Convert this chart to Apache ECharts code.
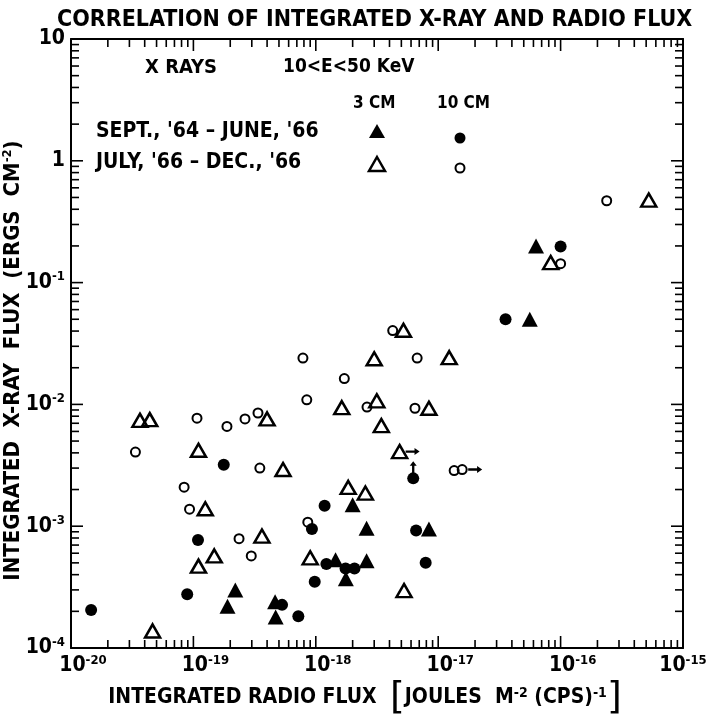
<!DOCTYPE html>
<html>
<head>
<meta charset="utf-8">
<script src="https://cdn.jsdelivr.net/npm/echarts@6/dist/echarts.min.js"></script>
<style>
  html, body { margin: 0; padding: 0; background: #fff; }
  #chart { width: 712px; height: 725px; }
</style>
</head>
<body>
<div id="chart"></div>
<script>
// X RAYS 10<E<50 KeV, integrated radio flux vs integrated x-ray flux
// [radio flux (J m^-2 (cps)^-1), x-ray flux (ergs cm^-2)]

// 3 CM, Sept '64 - June '66 (filled triangles)
const tri3Early = [
  [6.3e-17, 0.20], [5.6e-17, 0.050], [2.0e-18, 1.5e-3], [2.6e-18, 9.6e-4],
  [8.4e-18, 9.5e-4], [1.45e-18, 5.3e-4], [1.76e-18, 3.7e-4], [2.6e-18, 5.2e-4],
  [2.2e-19, 3.0e-4], [1.9e-19, 2.2e-4], [4.65e-19, 2.4e-4], [4.7e-19, 1.8e-4]
]

// 10 CM, Sept '64 - June '66 (filled circles)
const circ10Early = [
  [1.0e-16, 0.198], [3.55e-17, 0.050], [1.77e-19, 3.2e-3], [1.18e-18, 1.47e-3],
  [9.3e-19, 9.5e-4], [1.09e-19, 7.7e-4], [1.22e-18, 4.9e-4], [1.75e-18, 4.5e-4],
  [2.07e-18, 4.5e-4], [9.8e-19, 3.5e-4], [8.9e-20, 2.76e-4], [1.46e-20, 2.05e-4],
  [5.3e-19, 2.26e-4], [7.2e-19, 1.82e-4], [6.6e-18, 9.2e-4], [7.9e-18, 5.0e-4],
  [6.25e-18, 2.47e-3]
]

// 3 CM, July '66 - Dec. '66 (open triangles)
const tri3Late = [
  [5.25e-16, 0.476], [8.3e-17, 0.146], [5.2e-18, 0.0406], [3.0e-18, 0.0237],
  [1.23e-17, 0.0242], [3.15e-18, 0.0107], [1.63e-18, 9.4e-3], [8.4e-18, 9.3e-3],
  [3.43e-18, 6.7e-3], [3.66e-20, 7.4e-3], [4.4e-20, 7.5e-3], [4.0e-19, 7.6e-3],
  [1.10e-19, 4.2e-3], [5.4e-19, 2.92e-3], [1.25e-19, 1.39e-3], [3.63e-19, 8.3e-4],
  [1.48e-19, 5.7e-4], [1.10e-19, 4.7e-4], [9.0e-19, 5.5e-4], [1.84e-18, 2.08e-3],
  [2.54e-18, 1.87e-3], [4.84e-18, 4.1e-3], [5.26e-18, 2.96e-4], [4.64e-20, 1.38e-4]
]

// 10 CM, July '66 - Dec. '66 (open circles)
const circ10Late = [
  [2.38e-16, 0.47], [1.0e-16, 0.143], [4.25e-18, 0.0404], [7.85e-19, 0.0240],
  [6.73e-18, 0.0240], [1.71e-18, 0.0163], [8.44e-19, 0.0109], [2.62e-18, 9.5e-3],
  [6.46e-18, 9.3e-3], [1.07e-19, 7.7e-3], [1.88e-19, 6.6e-3], [2.64e-19, 7.6e-3],
  [3.37e-19, 8.5e-3], [3.36e-20, 4.06e-3], [3.49e-19, 3.0e-3], [8.4e-20, 2.09e-3],
  [9.3e-20, 1.38e-3], [8.6e-19, 1.08e-3], [2.36e-19, 7.9e-4], [2.97e-19, 5.7e-4],
  [1.35e-17, 2.86e-3], [1.57e-17, 2.92e-3]
]

// lower limits (arrows)
const rightLimits = [tri3Late[21], circ10Late[21]]
const upLimits = [circ10Early[16]]

// axes
const xMin = 1e-20, xMax = 1e-15
const yMin = 1e-4, yMax = 10
const xDecades = [-20, -19, -18, -17, -16, -15]
const yDecades = [-4, -3, -2, -1, 0, 1]
const minorMult = [2, 3, 4, 5, 6, 7, 8, 9]

const FONT = "'DejaVu Sans Condensed', 'Liberation Sans Narrow', 'DejaVu Sans', sans-serif"

const exponent = v => Math.round(Math.log10(v))

const chart = echarts.init(document.getElementById('chart'))

const tickRich = {
  w: { fontSize: 10, width: 24 },
  b: { fontFamily: FONT, fontWeight: 'bold', fontSize: 21, lineHeight: 24, color: '#000' },
  s: { fontFamily: FONT, fontWeight: 'bold', fontSize: 13, lineHeight: 13, verticalAlign: 'top', color: '#000' }
}

const baseAxis = {
  type: 'log',
  logBase: 10,
  axisLine: { show: true, lineStyle: { color: '#000', width: 2 } },
  axisTick: { show: false },
  splitLine: { show: false },
  minorTick: { show: false }
}

const legendGraphics = [
  { type: 'text', left: 145, top: 58, style: { text: 'X RAYS', font: 'bold 20px ' + FONT, fill: '#000' } },
  { type: 'text', left: 283, top: 58, style: { text: '10<E<50 KeV', font: 'bold 19px ' + FONT, fill: '#000' } },
  { type: 'text', left: 353, top: 95, style: { text: '3 CM', font: 'bold 17px ' + FONT, fill: '#000' } },
  { type: 'text', left: 437, top: 95, style: { text: '10 CM', font: 'bold 17px ' + FONT, fill: '#000' } },
  { type: 'text', left: 96, top: 121, style: { text: "SEPT., '64 \u2013 JUNE, '66", font: 'bold 21px ' + FONT, fill: '#000' } },
  { type: 'text', left: 96, top: 152, style: { text: "JULY, '66 \u2013 DEC., '66", font: 'bold 21px ' + FONT, fill: '#000' } },
  { type: 'polygon', shape: { points: [[377, 124], [385, 138], [369, 138]] }, style: { fill: '#000' } },
  { type: 'circle', shape: { cx: 460, cy: 138, r: 5.5 }, style: { fill: '#000' } },
  { type: 'polygon', shape: { points: [[377, 157], [385, 171], [369, 171]] }, style: { fill: 'none', stroke: '#000', lineWidth: 2.5, lineJoin: 'miter' } },
  { type: 'circle', shape: { cx: 460, cy: 168, r: 4.5 }, style: { fill: 'none', stroke: '#000', lineWidth: 2 } }
]

const option = {
  backgroundColor: '#fff',
  animation: false,
  title: {
    text: 'CORRELATION OF INTEGRATED X-RAY AND RADIO FLUX',
    left: 52,
    top: 4,
    textStyle: { fontFamily: FONT, fontWeight: 'bold', fontSize: 23, color: '#000' }
  },
  grid: { left: 71, top: 39, width: 612, height: 609, outerBoundsMode: 'none', containLabel: false },
  xAxis: [
    Object.assign({}, baseAxis, {
      min: xMin, max: xMax, position: 'bottom',
      axisLabel: {
        margin: 6,
        // "10" centred on the tick, exponent hanging right (last one pulled in)
        formatter: v => {
          const e = exponent(v)
          return (e === -15 ? '' : '{w| }') + '{b|10}{s|' + e + '}'
        },
        rich: tickRich
      },
      name: '{t|INTEGRATED RADIO FLUX}    {br|[}{t|JOULES  M}{s|-2}{t| (CPS)}{s|-1}{br|]}',
      nameLocation: 'middle',
      nameGap: 30,
      nameMoveOverlap: false,
      nameTextStyle: {
        padding: [0, 24, 0, 0],
        rich: {
          t: { fontFamily: FONT, fontWeight: 'bold', fontSize: 21, lineHeight: 40, color: '#000' },
          s: { fontFamily: FONT, fontWeight: 'bold', fontSize: 14, lineHeight: 14, verticalAlign: 'top', padding: [8, 0, 0, 0], color: '#000' },
          br: { fontFamily: "'DejaVu Sans', sans-serif", fontSize: 38, lineHeight: 40, color: '#000' }
        }
      }
    }),
    Object.assign({}, baseAxis, {
      min: xMin, max: xMax, position: 'top',
      axisLabel: { show: false }
    })
  ],
  yAxis: [
    Object.assign({}, baseAxis, {
      min: yMin, max: yMax, position: 'left',
      axisLabel: {
        margin: 6,
        formatter: v => {
          const e = exponent(v)
          if (e === 1) return '{b|10}'
          if (e === 0) return '{b|1}'
          return '{b|10}{s|' + e + '}'
        },
        rich: tickRich
      },
      name: '{t|INTEGRATED  X-RAY  FLUX  (ERGS  CM}{s|-2}{t|)}',
      nameLocation: 'middle',
      nameGap: 46,
      nameMoveOverlap: false,
      nameTextStyle: {
        padding: [0, 34, 0, 0],
        rich: {
          t: { fontFamily: FONT, fontWeight: 'bold', fontSize: 22, lineHeight: 24, color: '#000' },
          s: { fontFamily: FONT, fontWeight: 'bold', fontSize: 13, lineHeight: 13, verticalAlign: 'top', color: '#000' }
        }
      }
    }),
    Object.assign({}, baseAxis, {
      min: yMin, max: yMax, position: 'right',
      axisLabel: { show: false }
    })
  ],
  series: [
    {
      name: '3 CM  JULY-DEC 66',
      type: 'scatter',
      data: tri3Late,
      symbol: 'triangle',
      symbolSize: [15, 13],
      itemStyle: { color: 'transparent', borderColor: '#000', borderWidth: 2.5, opacity: 1 }
    },
    {
      name: '10 CM  JULY-DEC 66',
      type: 'scatter',
      data: circ10Late,
      symbol: 'circle',
      symbolSize: 9,
      itemStyle: { color: 'transparent', borderColor: '#000', borderWidth: 2, opacity: 1 }
    },
    {
      name: '3 CM  SEPT 64-JUNE 66',
      type: 'scatter',
      data: tri3Early,
      symbol: 'triangle',
      symbolSize: [16, 15],
      itemStyle: { color: '#000', opacity: 1 }
    },
    {
      name: '10 CM  SEPT 64-JUNE 66',
      type: 'scatter',
      data: circ10Early,
      symbol: 'circle',
      symbolSize: 12,
      itemStyle: { color: '#000', opacity: 1 }
    },
    {
      name: 'lower limit x',
      type: 'scatter',
      data: rightLimits,
      symbol: 'path://M0,4 L14,4 L14,0 L22,6 L14,12 L14,8 L0,8 Z',
      symbolSize: [14, 7],
      symbolOffset: [13, 0],
      itemStyle: { color: '#000', opacity: 1 }
    },
    {
      name: 'lower limit y',
      type: 'scatter',
      data: upLimits,
      symbol: 'path://M0,4 L14,4 L14,0 L22,6 L14,12 L14,8 L0,8 Z',
      symbolSize: [12, 7],
      symbolRotate: 90,
      symbolOffset: [0, -11],
      itemStyle: { color: '#000', opacity: 1 }
    }
  ]
}

chart.setOption(option)

// inward ticks on all four sides (decades long, 2..9 short), placed with the axes' own scales
const toPx = (x, y) => chart.convertToPixel({ gridIndex: 0 }, [x, y])
const tickLine = (x1, y1, x2, y2) => ({
  type: 'line', silent: true,
  shape: { x1, y1, x2, y2 },
  style: { stroke: '#000', lineWidth: 1.6 }
})
const ticks = []
const addX = (v, len) => {
  const b = toPx(v, yMin), t = toPx(v, yMax)
  ticks.push(tickLine(b[0], b[1], b[0], b[1] - len), tickLine(t[0], t[1], t[0], t[1] + len))
}
const addY = (v, len) => {
  const l = toPx(xMin, v), r = toPx(xMax, v)
  ticks.push(tickLine(l[0], l[1], l[0] + len, l[1]), tickLine(r[0], r[1], r[0] - len, r[1]))
}
xDecades.forEach((d, i) => {
  if (i > 0 && i < xDecades.length - 1) addX(Math.pow(10, d), 12)
  if (i < xDecades.length - 1) minorMult.forEach(m => addX(m * Math.pow(10, d), 8))
})
yDecades.forEach((d, i) => {
  if (i > 0 && i < yDecades.length - 1) addY(Math.pow(10, d), 12)
  if (i < yDecades.length - 1) minorMult.forEach(m => addY(m * Math.pow(10, d), 8))
})

chart.setOption({ graphic: legendGraphics.concat(ticks) })
</script>
</body>
</html>
